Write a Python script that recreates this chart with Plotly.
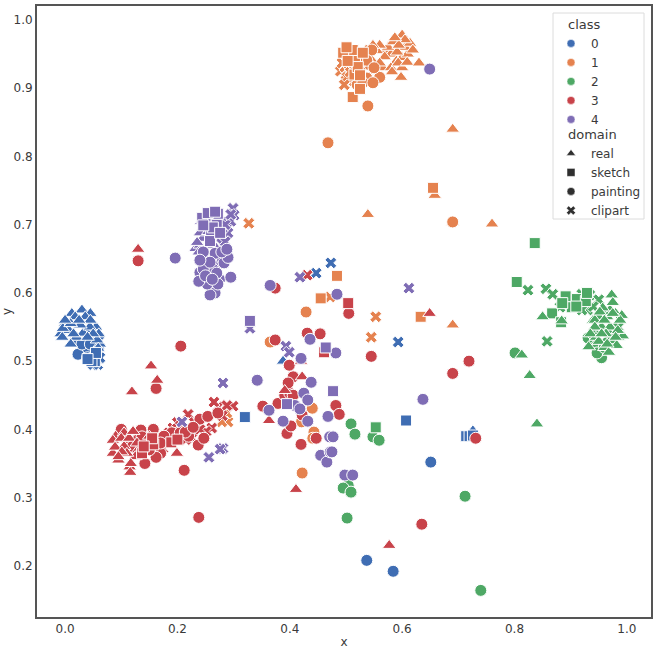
import plotly.graph_objects as go

CLASS_NAMES = ["0", "1", "2", "3", "4"]
CLASS_COLORS = ["#3f6db3", "#e5824f", "#4ea865", "#c8434a", "#7f6db5"]
DOMAIN_NAMES = ["real", "sketch", "painting", "clipart"]
DOMAIN_SYMBOLS = ["triangle-up", "square", "circle", "x"]
DOMAIN_SIZES = [12, 11, 12, 10.5]

# ---- class 0
c0_real_x = [.0, .012, .03, .045, -.008, .02, .04, .055, .06, .01, .062, .05, .036, .018, .007, .032, .057, .059, .044, -.004, .027, .01, .045, -.005, .05, .025, .388, .726, .015, .04, .0]
c0_real_y = [.555, .57, .575, .57, .54, .535, .545, .55, .54, .525, .525, .51, .565, .565, .545, .541, .531, .519, .55, .548, .553, .555, .56, .535, .54, .56, .50, .398, .54, .535, .56]
c0_sketch_x = [.32, .607, .053, .047, .055, .04, .714, .72, .726]
c0_sketch_y = [.418, .413, .50, .50, .512, .503, .39, .39, .391]
c0_paint_x = [.537, .584, .651, .036, .023, .018, .03, .045, .04]
c0_paint_y = [.208, .192, .352, .518, .51, .53, .525, .525, .505]
c0_clip_x = [.447, .473, .593, .055, .06, .05, .06, .0, .058, .05, .062]
c0_clip_y = [.629, .644, .528, .505, .53, .52, .515, .55, .495, .495, .505]

# ---- class 1
c1_real_x = [.57, .58, .59, .6, .61, .575, .555, .565, .55, .58, .6, .605, .6, .56, .591, .569, .546, .593, .609, .582, .598, .614, .584, .548, .56, .605, .594, .619, .587, .536, .63, .69, .539, .658, .69, .76, .69]
c1_real_y = [.955, .95, .94, .945, .95, .96, .955, .93, .925, .93, .93, .96, .978, .963, .953, .946, .941, .937, .938, .924, .916, .966, .968, .963, .937, .971, .963, .956, .974, .956, .937, .84, .715, .743, .703, .701, .553]
c1_sketch_x = [.505, .52, .515, .512, .525, .516, .512, .521, .495, .53, .525, .501, .503, .655, .484, .455, .633]
c1_sketch_y = [.945, .945, .92, .887, .899, .941, .956, .931, .952, .952, .919, .96, .94, .754, .625, .592, .565]
c1_paint_x = [.525, .54, .53, .52, .539, .468, .69, .429, .365, .44, .422, .421, .443, .441, .56, .546, .537, .53, .548, .537, .55, .525]
c1_paint_y = [.93, .935, .94, .905, .874, .82, .704, .572, .528, .431, .336, .411, .396, .387, .916, .956, .915, .908, .908, .941, .93, .925]
c1_clip_x = [.49, .5, .505, .515, .327, .553, .545, .29, .279, .472, .502, .498, .507, .493, .288, .497, .51]
c1_clip_y = [.925, .92, .935, .91, .702, .565, .535, .411, .411, .594, .916, .931, .924, .937, .424, .905, .94]

# ---- class 2
c2_real_x = [.95, .96, .97, .98, .965, .945, .955, .97, .985, .94, .975, .96, .973, .975, .957, .991, .85, .943, .884, .952, .988, .993, .932, .968, .95, .97, .963, .984, .943, .982, .827, .84, .813, .96, .975, .935, .955, .98, .965]
c2_real_y = [.565, .575, .575, .57, .565, .535, .55, .54, .535, .56, .53, .52, .597, .586, .578, .567, .565, .56, .559, .572, .56, .537, .521, .513, .529, .55, .54, .545, .55, .523, .479, .408, .509, .56, .57, .54, .54, .535, .525]
c2_sketch_x = [.836, .804, .891, .911, .927, .867, .902, .929, .883, .553, .91, .885]
c2_sketch_y = [.673, .616, .595, .591, .588, .57, .579, .6, .557, .403, .58, .585]
c2_paint_x = [.94, .955, .801, .509, .516, .548, .559, .712, .74, .502, .504, .495, .509, .947, .931, .96, .94, .975]
c2_paint_y = [.525, .505, .512, .408, .393, .389, .384, .302, .164, .27, .318, .314, .308, .512, .534, .52, .54, .53]
c2_clip_x = [.824, .856, .868, .881, .858, .934, .95, .92, .965, .985, .945, .93, .92, .905, .94]
c2_clip_y = [.604, .606, .598, .579, .529, .597, .59, .598, .535, .55, .545, .575, .575, .59, .58]

# ---- class 3
c3_real_x = [.09, .105, .095, .13, .105, .125, .085, .115, .13, .119, .153, .164, .199, .116, .363, .422, .411, .391, .649, .577, .085, .1, .114, .089, .11, .117, .121, .101, .128, .095, .15, .42]
c3_real_y = [.39, .375, .355, .37, .395, .36, .365, .345, .664, .455, .493, .472, .365, .337, .413, .477, .312, .457, .57, .23, .384, .387, .387, .374, .365, .35, .397, .367, .38, .36, .39, .5]
c3_sketch_x = [.137, .157, .189, .461, .504, .155, .14, .2]
c3_sketch_y = [.365, .378, .381, .513, .585, .387, .375, .385]
c3_clip_x = [.219, .261, .251, .299, .208, .431, .192, .226, .272, .288, .146, .174, .2, .215, .12, .165, .18, .185, .195, .205, .215, .23, .265, .28, .24]
c3_clip_y = [.422, .402, .397, .434, .394, .626, .402, .387, .433, .435, .38, .372, .41, .4, .38, .39, .385, .395, .39, .405, .385, .41, .44, .42, .4]
c3_paint_x = [.13, .15, .16, .19, .205, .22, .14, .17, .13, .374, .206, .162, .212, .238, .237, .24, .254, .272, .176, .157, .135, .1, .142, .162, .137, .247, .214, .228, .352, .379, .395, .402, .42, .447, .406, .399, .422, .391, .4, .374, .431, .454, .397, .406, .505, .482, .488, .545, .69, .719, .731, .635, .11, .12, .15, .17]
c3_paint_y = [.385, .385, .37, .395, .395, .39, .37, .365, .647, .607, .522, .46, .34, .271, .377, .415, .419, .424, .39, .4, .399, .4, .35, .359, .389, .387, .396, .403, .434, .438, .394, .405, .378, .387, .477, .494, .421, .45, .453, .531, .541, .54, .468, .45, .57, .435, .422, .507, .482, .5, .387, .261, .385, .375, .37, .38]

# ---- class 4
c4_real_x = [.232, .24, .245, .25, .255, .265, .235, .24, .246, .25, .26, .242, .255, .265, .238, .27, .248]
c4_real_y = [.665, .67, .68, .695, .705, .715, .674, .688, .696, .66, .68, .705, .69, .67, .66, .695, .71]
c4_sketch_x = [.262, .25, .27, .26, .272, .263, .258, .244, .246, .329, .464, .477, .254, .267, .276, .395]
c4_sketch_y = [.71, .71, .7, .685, .716, .696, .676, .71, .699, .559, .52, .456, .717, .719, .688, .437]
c4_paint_x = [.25, .26, .27, .28, .255, .245, .265, .24, .275, .196, .295, .365, .649, .267, .258, .253, .238, .272, .263, .246, .27, .283, .267, .246, .258, .29, .279, .24, .288, .342, .363, .436, .42, .438, .425, .432, .409, .418, .388, .432, .455, .466, .472, .468, .471, .482, .477, .475, .498, .512, .637, .484, .25, .262]
c4_paint_y = [.64, .63, .64, .65, .62, .65, .61, .63, .62, .651, .623, .611, .928, .6, .597, .613, .617, .613, .635, .635, .629, .644, .658, .66, .645, .652, .66, .648, .664, .472, .428, .532, .504, .469, .453, .443, .435, .43, .412, .412, .362, .352, .367, .419, .389, .512, .389, .367, .333, .333, .444, .598, .625, .62]
c4_clip_x = [.299, .301, .288, .29, .418, .612, .281, .393, .399, .256, .281, .276, .329, .208, .28, .295, .285, .295, .27, .285]
c4_clip_y = [.724, .714, .704, .688, .623, .607, .468, .522, .513, .359, .372, .371, .548, .411, .695, .705, .7, .715, .68, .675]

groups = [
    (0, [(3, c0_clip_x, c0_clip_y), (2, c0_paint_x, c0_paint_y), (0, c0_real_x, c0_real_y), (1, c0_sketch_x, c0_sketch_y)]),
    (1, [(0, c1_real_x, c1_real_y), (3, c1_clip_x, c1_clip_y), (2, c1_paint_x, c1_paint_y), (1, c1_sketch_x, c1_sketch_y)]),
    (2, [(2, c2_paint_x, c2_paint_y), (3, c2_clip_x, c2_clip_y), (1, c2_sketch_x, c2_sketch_y), (0, c2_real_x, c2_real_y)]),
    (3, [(3, c3_clip_x, c3_clip_y), (2, c3_paint_x, c3_paint_y), (0, c3_real_x, c3_real_y), (1, c3_sketch_x, c3_sketch_y)]),
    (4, [(0, c4_real_x, c4_real_y), (3, c4_clip_x, c4_clip_y), (2, c4_paint_x, c4_paint_y), (1, c4_sketch_x, c4_sketch_y)]),
]

fig = go.Figure()
for cls, parts in groups:
    for dom, xs, ys in parts:
        fig.add_trace(go.Scatter(
            x=xs, y=ys, mode="markers", showlegend=False,
            name=f"{CLASS_NAMES[cls]}, {DOMAIN_NAMES[dom]}",
            marker=dict(color=CLASS_COLORS[cls], symbol=DOMAIN_SYMBOLS[dom], size=DOMAIN_SIZES[dom],
                        line=dict(color="white", width=1)),
        ))

for name, color in zip(CLASS_NAMES, CLASS_COLORS):
    fig.add_trace(go.Scatter(x=[None], y=[None], mode="markers", name=name, legend="legend",
                             marker=dict(color=color, symbol="circle", size=8,
                                         line=dict(color="white", width=0.5))))
for name, symbol in zip(DOMAIN_NAMES, DOMAIN_SYMBOLS):
    fig.add_trace(go.Scatter(x=[None], y=[None], mode="markers", name=name, legend="legend2",
                             marker=dict(color="#2f2f2f", symbol=symbol, size=8,
                                         line=dict(color="white", width=0.5))))

W, H = 658, 649
ML, MR, MT, MB = 37, 7, 6, 32
PW, PH = W - ML - MR, H - MT - MB
font = dict(family="DejaVu Sans", size=12, color="#3a3a3a")
title_font = dict(family="DejaVu Sans", size=13, color="#3a3a3a")
axis = dict(showgrid=False, zeroline=False, ticks="", showline=True, mirror=True,
            linecolor="#555555", linewidth=2, tickfont=font, automargin=False)

fig.update_layout(
    width=W, height=H,
    margin=dict(l=ML, r=MR, t=MT, b=MB, autoexpand=False),
    paper_bgcolor="white", plot_bgcolor="white", font=font,
    xaxis=dict(axis, range=[-0.05, 1.043], tickvals=[0, .2, .4, .6, .8, 1],
               ticktext=["0.0", "0.2", "0.4", "0.6", "0.8", "1.0"],
               title=dict(text="x", standoff=19, font=font)),
    yaxis=dict(axis, range=[0.125, 1.0205], tickvals=[.2, .3, .4, .5, .6, .7, .8, .9, 1],
               ticktext=["0.2", "0.3", "0.4", "0.5", "0.6", "0.7", "0.8", "0.9", "1.0"],
               title=dict(text="y", standoff=17, font=font)),
    legend=dict(title=dict(text="\u00a0\u00a0\u00a0\u2009class", font=title_font),
                x=(551 - ML) / PW, xanchor="left", y=1 - (12 - MT) / PH, yanchor="top",
                bgcolor="rgba(0,0,0,0)", borderwidth=0, itemsizing="trace",
                font=font, tracegroupgap=0),
    legend2=dict(title=dict(text="\u00a0\u00a0\u00a0\u2009domain", font=title_font),
                 x=(551 - ML) / PW, xanchor="left", y=1 - (122 - MT) / PH, yanchor="top",
                 bgcolor="rgba(0,0,0,0)", borderwidth=0, itemsizing="trace",
                 font=font, tracegroupgap=0),
    shapes=[dict(type="rect", xref="paper", yref="paper",
                 x0=(553 - ML) / PW, x1=(644 - ML) / PW,
                 y0=1 - (219 - MT) / PH, y1=1 - (13 - MT) / PH,
                 line=dict(color="#dcdcdc", width=1), fillcolor="white", layer="above")],
)

fig.write_html("out.html", post_script="document.body.style.margin='0';",
               config={"displayModeBar": False})
